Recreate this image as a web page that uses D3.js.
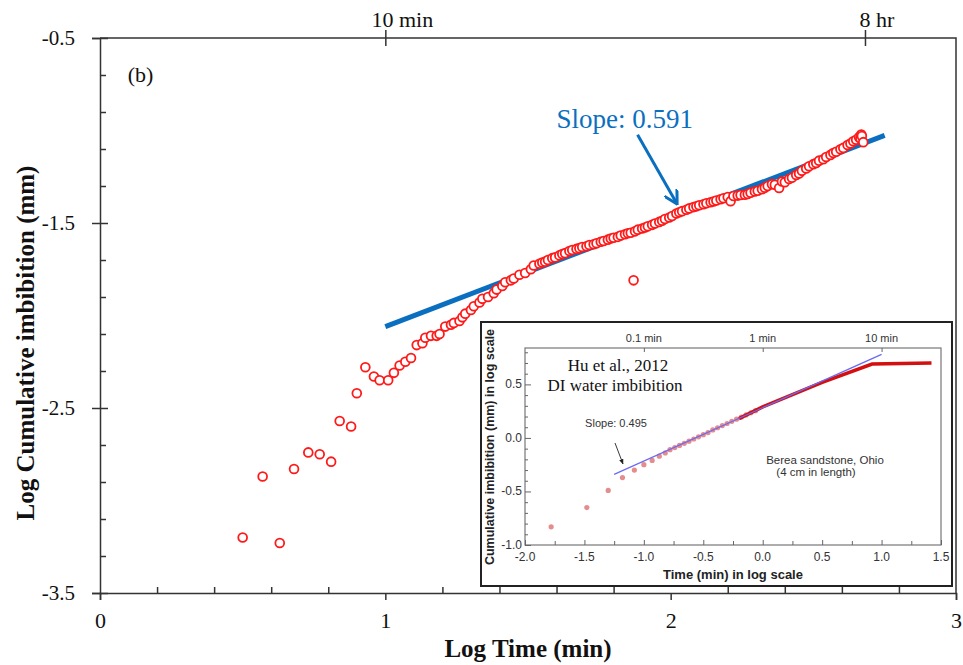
<!DOCTYPE html>
<html>
<head>
  <title>Cumulative imbibition chart</title>
  <meta charset="utf-8">
  <style>
    body{
      background-color:#fff;
      margin: 0;
      padding: 0;
    }
    .chart text{
      font-family: "Liberation Serif", "Times New Roman", serif;
      fill: #111;
    }
    .chart .axis path, .chart .axis line{
      stroke: #333;
      stroke-width: 1.5;
    }
    .chart .inset text{
      font-family: "Liberation Sans", Arial, sans-serif;
      fill: #333;
    }
    .chart .inset .axis path, .chart .inset .axis line{
      stroke: #666;
      stroke-width: 1;
    }
  </style>
</head>
<body>
  <svg class="chart"></svg>

<script src="https://d3js.org/d3.v7.min.js"></script>
<script>

// main data: log time (min) vs log cumulative imbibition (mm)
var logTime = [0.50,0.57,0.63,0.68,0.73,0.77,0.81,0.84,0.88,0.90,0.93,0.96,0.98,1.01,1.03,1.05,1.07,1.09,1.11,1.13,
  1.14,1.16,1.18,1.19,1.21,1.23,1.24,1.26,1.27,1.28,1.30,1.31,1.33,1.34,1.36,1.38,1.39,1.41,1.42,1.44,
  1.45,1.47,1.49,1.51,1.52,1.54,1.55,1.56,1.57,1.585,1.595,1.61,1.62,1.63,1.645,1.655,1.67,1.68,1.69,1.705,
  1.715,1.73,1.74,1.755,1.765,1.78,1.79,1.80,1.815,1.825,1.84,1.85,1.86,1.875,1.885,1.90,1.91,1.92,1.935,1.945,
  1.96,1.97,1.98,1.995,2.005,2.02,2.03,2.04,2.055,2.065,2.08,2.09,2.10,2.115,2.125,2.14,2.15,2.16,2.175,2.185,
  2.20,2.21,2.22,2.235,2.245,2.26,2.27,2.28,2.295,2.305,2.32,2.33,2.34,2.355,2.365,2.38,2.39,2.40,2.415,2.425,
  2.44,2.45,2.46,2.475,2.485,2.50,2.51,2.52,2.535,2.545,2.56,2.57,2.58,2.595,2.605,2.62,2.63,2.64,2.65,2.66,
  2.665,2.668,2.67,2.675,1.87];
var logImb = [-3.20,-2.87,-3.23,-2.83,-2.74,-2.75,-2.79,-2.57,-2.60,-2.42,-2.28,-2.33,-2.35,-2.35,-2.31,-2.27,-2.25,-2.23,-2.16,-2.15,
  -2.12,-2.11,-2.11,-2.10,-2.06,-2.05,-2.04,-2.03,-2.01,-1.99,-1.97,-1.95,-1.93,-1.91,-1.90,-1.88,-1.86,-1.84,-1.82,-1.81,
  -1.80,-1.78,-1.77,-1.75,-1.73,-1.72,-1.714,-1.709,-1.700,-1.690,-1.686,-1.675,-1.668,-1.663,-1.652,-1.646,-1.640,-1.636,-1.630,-1.626,
  -1.619,-1.615,-1.610,-1.601,-1.597,-1.590,-1.584,-1.580,-1.575,-1.568,-1.561,-1.555,-1.553,-1.545,-1.536,-1.530,-1.524,-1.518,-1.510,-1.503,
  -1.494,-1.488,-1.478,-1.470,-1.462,-1.449,-1.442,-1.436,-1.428,-1.421,-1.414,-1.410,-1.404,-1.399,-1.393,-1.388,-1.384,-1.378,-1.372,-1.366,
  -1.360,-1.382,-1.354,-1.352,-1.349,-1.347,-1.343,-1.336,-1.330,-1.326,-1.317,-1.310,-1.300,-1.290,-1.293,-1.311,-1.276,-1.280,-1.262,-1.255,
  -1.240,-1.232,-1.218,-1.205,-1.193,-1.182,-1.176,-1.163,-1.155,-1.143,-1.132,-1.122,-1.115,-1.102,-1.094,-1.078,-1.070,-1.058,-1.050,-1.036,
  -1.043,-1.022,-1.030,-1.063,-1.81];

// fitted line (slope 0.591)
var fitX = [1.0, 2.75];
var fitY = [-2.06, -1.026];

var xTicksMajor = [0, 1, 2, 3];
var xTickLabels = ["0", "1", "2", "3"];
var xTicksMinor = [0.2,0.4,0.6,0.8,1.2,1.4,1.6,1.8,2.2,2.4,2.6,2.8];
var yTicksMajor = [-3.5, -2.5, -1.5, -0.5];
var yTickLabels = ["-3.5", "-2.5", "-1.5", "-0.5"];
var yTicksMinor = [-3.3,-3.1,-2.9,-2.7,-2.3,-2.1,-1.9,-1.7,-1.3,-1.1,-0.9,-0.7];
var topTicks = [1, 2.681];
var topLabels = ["10 min", "8 hr"];

// inset (Hu et al., 2012)
var insetDotX = [-1.78,-1.48,-1.30,-1.18,-1.08,-1.00,-0.93,-0.87,-0.82,-0.78,-0.74,-0.70,-0.66,-0.62,
  -0.58,-0.54,-0.50,-0.46,-0.42,-0.38,-0.34,-0.30,-0.26,-0.22,-0.18,-0.14,-0.10,-0.06];
var insetDotY = [-0.83,-0.65,-0.49,-0.37,-0.30,-0.25,-0.21,-0.17,-0.14,-0.11,-0.09,-0.07,-0.05,-0.03,
  -0.01,0.01,0.03,0.05,0.075,0.095,0.115,0.135,0.155,0.175,0.195,0.215,0.235,0.255];
var insetLineX = [-0.2, 0.0, 0.5, 0.92, 1.42];
var insetLineY = [0.18, 0.29, 0.52, 0.69, 0.70];
var insetFitX = [-1.25, 1.0];
var insetFitY = [-0.34, 0.78];
var insetXTicks = [-2.0,-1.5,-1.0,-0.5,0.0,0.5,1.0,1.5];
var insetXLabels = ["-2.0","-1.5","-1.0","-0.5","0.0","0.5","1.0","1.5"];
var insetXMinor = [-1.75,-1.25,-0.75,-0.25,0.25,0.75,1.25];
var insetYTicks = [-1.0,-0.5,0.0,0.5];
var insetYLabels = ["-1.0","-0.5","0.0","0.5"];
var insetYMinor = [-0.9,-0.8,-0.7,-0.6,-0.4,-0.3,-0.2,-0.1,0.1,0.2,0.3,0.4,0.6,0.7,0.8];
var insetTopTicks = [-1, 0, 1];
var insetTopLabels = ["0.1 min", "1 min", "10 min"];


var W = 963, H = 665;
var svg = d3.select('.chart').attr("width", W).attr("height", H);

var x = d3.scaleLinear().domain([0, 3]).range([100, 956]);
var y = d3.scaleLinear().domain([-3.5, -0.5]).range([593, 38]);

function labelAt(arr) { return function(d, i) { return arr[i]; }; }

// frame: top and right lines
svg.append("path").attr("d", "M" + x(0) + "," + y(-0.5) + "H" + x(3) + "V" + y(-3.5))
  .attr("fill", "none").attr("stroke", "#333").attr("stroke-width", 1.5);

// left axis, major ticks crossing the line
var gl = svg.append("g").attr("class", "axis").attr("transform", "translate(" + x(0) + ",0)");
gl.call(d3.axisLeft(y).tickValues(yTicksMajor).tickSize(8).tickPadding(17).tickFormat(labelAt(yTickLabels)));
gl.selectAll("text").style("font-size", "21px");
svg.append("g").attr("class", "axis").attr("transform", "translate(" + x(0) + ",0)")
  .call(d3.axisRight(y).tickValues(yTicksMajor).tickSize(8).tickFormat(""))
  .call(g => g.select(".domain").remove());
svg.append("g").attr("class", "axis").attr("transform", "translate(" + x(0) + ",0)")
  .call(d3.axisRight(y).tickValues(yTicksMinor).tickSize(6).tickFormat(""))
  .call(g => g.select(".domain").remove());

// bottom axis
var gb = svg.append("g").attr("class", "axis").attr("transform", "translate(0," + y(-3.5) + ")");
gb.call(d3.axisBottom(x).tickValues(xTicksMajor).tickSize(7).tickPadding(12).tickFormat(labelAt(xTickLabels)));
gb.selectAll("text").style("font-size", "22px");
svg.append("g").attr("class", "axis").attr("transform", "translate(0," + y(-3.5) + ")")
  .call(d3.axisTop(x).tickValues(xTicksMinor).tickSize(6).tickFormat(""))
  .call(g => g.select(".domain").remove());

// top axis crosses with time labels
svg.append("g").attr("class", "axis").attr("transform", "translate(0," + y(-0.5) + ")")
  .call(d3.axisTop(x).tickValues(topTicks).tickSize(8).tickFormat(""))
  .call(g => g.select(".domain").remove());
svg.append("g").attr("class", "axis").attr("transform", "translate(0," + y(-0.5) + ")")
  .call(d3.axisBottom(x).tickValues(topTicks).tickSize(8).tickFormat(""))
  .call(g => g.select(".domain").remove());
svg.selectAll(".toplab").data(topTicks).enter().append("text")
  .attr("x", function(d, i) { return x(d) + (i == 0 ? 17 : 12); })
  .attr("y", 27)
  .attr("text-anchor", "middle")
  .style("font-size", "22px")
  .text(labelAt(topLabels));

// axis titles
svg.append("text").attr("x", (x(0) + x(3)) / 2 - 0).attr("y", 657)
  .attr("text-anchor", "middle").style("font-size", "25px").style("font-weight", "bold")
  .text("Log Time (min)");
svg.append("text").attr("transform", "translate(34,343) rotate(-90)")
  .attr("text-anchor", "middle").style("font-size", "25px").style("font-weight", "bold")
  .text("Log Cumulative imbibition (mm)");

svg.append("text").attr("x", x(0.097)).attr("y", y(-0.74)).style("font-size", "22px").text("(b)");

// fitted slope line
svg.append("line")
  .attr("x1", x(fitX[0])).attr("y1", y(fitY[0]))
  .attr("x2", x(fitX[1])).attr("y2", y(fitY[1]))
  .attr("stroke", "#0b6fc0").attr("stroke-width", 5);

// data circles
var pts = logTime.map(function(d, i) { return {t: d, v: logImb[i]}; });
svg.selectAll(".pt").data(pts).enter().append("circle")
  .attr("class", "pt")
  .attr("cx", function(d) { return x(d.t); })
  .attr("cy", function(d) { return y(d.v); })
  .attr("r", 4.4)
  .attr("fill", "#fff")
  .attr("stroke", "#ff1a1a")
  .attr("stroke-width", 1.8);

// slope annotation
svg.append("defs").append("marker").attr("id", "headBlue")
  .attr("viewBox", "0 0 10 10").attr("refX", 8).attr("refY", 5)
  .attr("markerWidth", 5).attr("markerHeight", 5).attr("orient", "auto")
  .append("path").attr("d", "M0,0 L9,5 L0,10").attr("fill", "none").attr("stroke", "#0b6fc0").attr("stroke-width", 2);
svg.append("text").attr("x", x(1.6)).attr("y", y(-0.985))
  .style("font-size", "27px").style("fill", "#0b6fc0").text("Slope: 0.591");
svg.append("line").attr("x1", x(1.884)).attr("y1", y(-1.023)).attr("x2", x(2.02)).attr("y2", y(-1.39))
  .attr("stroke", "#0b6fc0").attr("stroke-width", 3).attr("marker-end", "url(#headBlue)");

// ---- inset ----
var inset = svg.append("g").attr("class", "inset");
inset.append("rect").attr("x", 481).attr("y", 322).attr("width", 471).attr("height", 264)
  .attr("fill", "#fff").attr("stroke", "#222").attr("stroke-width", 2);

var ix = d3.scaleLinear().domain([-2, 1.5]).range([525, 941]);
var iy = d3.scaleLinear().domain([-1, 0.84]).range([545, 348]);

inset.append("rect").attr("x", ix(-2)).attr("y", iy(0.84)).attr("width", ix(1.5) - ix(-2)).attr("height", iy(-1) - iy(0.84))
  .attr("fill", "none").attr("stroke", "#777").attr("stroke-width", 1.2);

var ib = inset.append("g").attr("class", "axis").attr("transform", "translate(0," + iy(-1) + ")");
ib.call(d3.axisTop(ix).tickValues(insetXTicks).tickSize(5).tickFormat(""));
ib.select(".domain").remove();
inset.append("g").attr("class", "axis").attr("transform", "translate(0," + iy(-1) + ")")
  .call(d3.axisTop(ix).tickValues(insetXMinor).tickSize(4).tickFormat(""))
  .call(g => g.select(".domain").remove());
inset.selectAll(".ixl").data(insetXTicks).enter().append("text")
  .attr("x", function(d) { return ix(d); }).attr("y", iy(-1) + 16)
  .attr("text-anchor", "middle").style("font-size", "12px")
  .text(labelAt(insetXLabels));

inset.append("g").attr("class", "axis").attr("transform", "translate(" + ix(-2) + ",0)")
  .call(d3.axisRight(iy).tickValues(insetYTicks).tickSize(6).tickFormat(""))
  .call(g => g.select(".domain").remove());
inset.append("g").attr("class", "axis").attr("transform", "translate(" + ix(-2) + ",0)")
  .call(d3.axisRight(iy).tickValues(insetYMinor).tickSize(3).tickFormat(""))
  .call(g => g.select(".domain").remove());
inset.selectAll(".iyl").data(insetYTicks).enter().append("text")
  .attr("x", ix(-2) - 3).attr("y", function(d) { return iy(d) + 4; })
  .attr("text-anchor", "end").style("font-size", "12px")
  .text(labelAt(insetYLabels));

inset.append("g").attr("class", "axis").attr("transform", "translate(0," + iy(0.84) + ")")
  .call(d3.axisBottom(ix).tickValues(insetTopTicks).tickSize(4).tickFormat(""))
  .call(g => g.select(".domain").remove());
inset.selectAll(".itl").data(insetTopTicks).enter().append("text")
  .attr("x", function(d) { return ix(d); }).attr("y", iy(0.84) - 6)
  .attr("text-anchor", "middle").style("font-size", "11px")
  .text(labelAt(insetTopLabels));

inset.append("text").attr("x", 733).attr("y", 579).attr("text-anchor", "middle")
  .style("font-size", "13px").style("font-weight", "bold").style("fill", "#222")
  .text("Time (min) in log scale");
inset.append("text").attr("transform", "translate(494,447) rotate(-90)").attr("text-anchor", "middle")
  .style("font-size", "12.5px").style("font-weight", "bold").style("fill", "#222")
  .text("Cumulative imbibition (mm) in log scale");

// inset data
inset.selectAll(".idot").data(insetDotX).enter().append("circle")
  .attr("cx", function(d) { return ix(d); })
  .attr("cy", function(d, i) { return iy(insetDotY[i]); })
  .attr("r", 2.6).attr("fill", "#e07878").attr("opacity", 0.85);
inset.append("path")
  .datum(insetLineX.map(function(d, i) { return [d, insetLineY[i]]; }))
  .attr("d", d3.line().x(function(d) { return ix(d[0]); }).y(function(d) { return iy(d[1]); }))
  .attr("fill", "none").attr("stroke", "#d40f0f").attr("stroke-width", 3.5);
inset.append("line")
  .attr("x1", ix(insetFitX[0])).attr("y1", iy(insetFitY[0]))
  .attr("x2", ix(insetFitX[1])).attr("y2", iy(insetFitY[1]))
  .attr("stroke", "#6a6af5").attr("stroke-width", 1.3);

// inset text
inset.append("text").attr("x", 618).attr("y", 371).attr("text-anchor", "middle")
  .style("font-family", "'Liberation Serif', serif").style("font-size", "17px").style("fill", "#111")
  .text("Hu et al., 2012");
inset.append("text").attr("x", 615).attr("y", 391).attr("text-anchor", "middle")
  .style("font-family", "'Liberation Serif', serif").style("font-size", "17px").style("fill", "#111")
  .text("DI water imbibition");
inset.append("text").attr("x", 616).attr("y", 427).attr("text-anchor", "middle")
  .style("font-size", "11px").text("Slope: 0.495");
inset.append("defs").append("marker").attr("id", "headBlack")
  .attr("viewBox", "0 0 10 10").attr("refX", 9).attr("refY", 5)
  .attr("markerWidth", 6).attr("markerHeight", 6).attr("orient", "auto")
  .append("path").attr("d", "M0,1 L10,5 L0,9 Z").attr("fill", "#222");
inset.append("line").attr("x1", 615).attr("y1", 443).attr("x2", 623).attr("y2", 464)
  .attr("stroke", "#222").attr("stroke-width", 0.9).attr("marker-end", "url(#headBlack)");
inset.append("text").attr("x", 825).attr("y", 464).attr("text-anchor", "middle")
  .style("font-size", "11.5px").text("Berea sandstone, Ohio");
inset.append("text").attr("x", 816).attr("y", 476).attr("text-anchor", "middle")
  .style("font-size", "11.5px").text("(4 cm in length)");

</script>
</body>
</html>
